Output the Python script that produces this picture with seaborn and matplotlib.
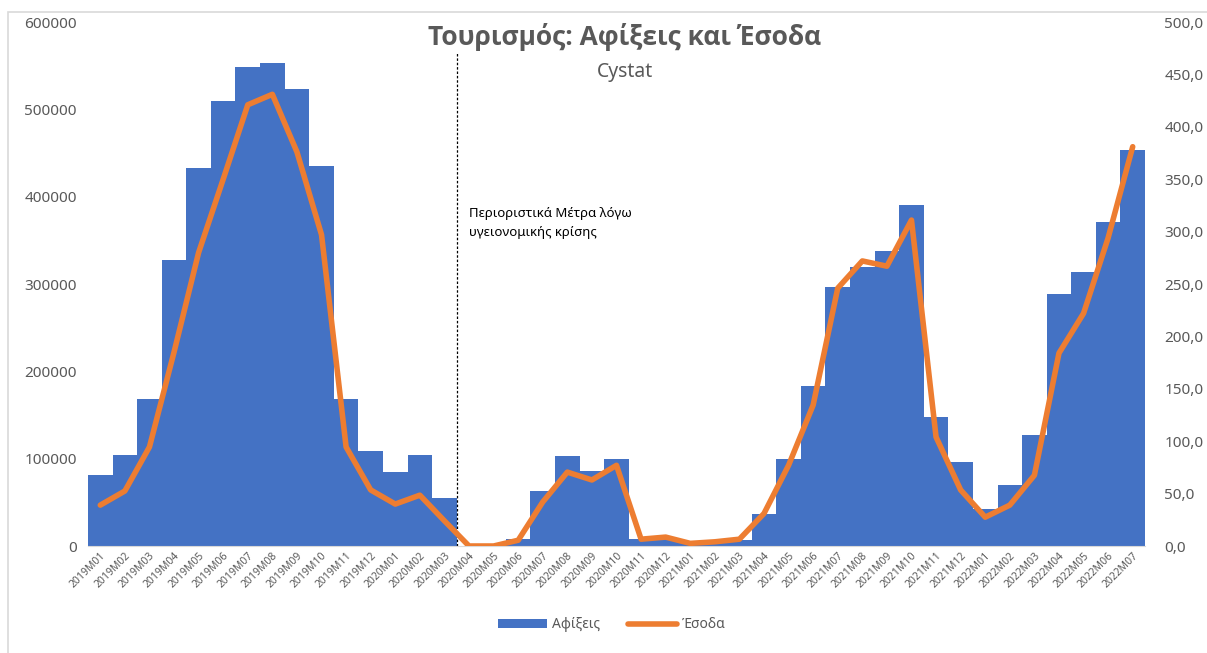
import numpy as np
import pandas as pd
import matplotlib
matplotlib.use('Agg')
import matplotlib.pyplot as plt
import seaborn as sns
from matplotlib.patches import Rectangle, Patch
from matplotlib.lines import Line2D
from matplotlib.ticker import FuncFormatter

sns.set_style('white')
plt.rcParams['font.family'] = ['Noto Sans', 'DejaVu Sans']

# Data
months = ['2019M01', '2019M02', '2019M03', '2019M04', '2019M05', '2019M06', '2019M07',
          '2019M08', '2019M09', '2019M10', '2019M11', '2019M12',
          '2020M01', '2020M02', '2020M03', '2020M04', '2020M05', '2020M06', '2020M07',
          '2020M08', '2020M09', '2020M10', '2020M11', '2020M12',
          '2021M01', '2021M02', '2021M03', '2021M04', '2021M05', '2021M06', '2021M07',
          '2021M08', '2021M09', '2021M10', '2021M11', '2021M12',
          '2022M01', '2022M02', '2022M03', '2022M04', '2022M05', '2022M06', '2022M07']
arrivals = [81000, 104000, 168000, 328000, 433000, 509000, 549000,
            553000, 523000, 435000, 168000, 109000,
            85000, 104000, 55000, 0, 0, 8000, 63000,
            103000, 86000, 100000, 8000, 8000,
            6000, 6000, 7000, 37000, 100000, 183000, 296000,
            320000, 338000, 391000, 148000, 96000,
            42000, 70000, 127000, 288000, 314000, 371000, 454000]
revenue = [39.0, 52.5, 94.5, 185.0, 280.0, 350.0, 421.0,
           431.0, 376.0, 297.0, 94.5, 53.5,
           40.0, 48.5, 24.0, 0.0, 0.0, 5.5, 42.0,
           70.5, 63.0, 77.0, 6.5, 8.5,
           2.5, 4.0, 6.5, 31.0, 77.0, 134.5, 246.0,
           272.0, 267.0, 311.0, 104.0, 53.5,
           27.5, 39.0, 67.5, 184.0, 222.0, 294.0, 381.0]

df = pd.DataFrame({'month': months, 'arrivals': arrivals, 'revenue': revenue})
df['pos'] = np.arange(len(df))

BLUE = '#4472C4'
ORANGE = '#ED7D31'
GREY = '#595959'

fig = plt.figure(figsize=(12.07, 6.53), dpi=100)
fig.patches.append(Rectangle((8/1207, -0.01), 1.2, (653-12)/653 + 0.01, transform=fig.transFigure,
                             fill=False, edgecolor='#D9D9D9', linewidth=1.2))
ax = fig.add_axes([88/1207, 1-546/653, (1145-88)/1207, (546-22)/653])

sns.barplot(data=df, x='month', y='arrivals', color=BLUE, width=1.0, saturation=1,
            ax=ax, edgecolor='none')
ax.set_xlim(-0.5, len(df) - 0.5)
ax.set_ylim(0, 600000)
ax.set_yticks(np.arange(0, 600001, 100000))
ax.yaxis.set_major_formatter(FuncFormatter(lambda v, p: f'{int(v)}'))
ax.set_xlabel('')
ax.set_ylabel('')
ax.tick_params(axis='y', length=0, labelsize=11, labelcolor=GREY, pad=8)
ax.tick_params(axis='x', length=0, labelsize=7.5, labelcolor=GREY, pad=3)
for lab in ax.get_xticklabels():
    lab.set_rotation(45)
    lab.set_ha('right')
    lab.set_rotation_mode('anchor')
for s in ['top', 'right', 'left']:
    ax.spines[s].set_visible(False)
ax.spines['bottom'].set_color('#D9D9D9')

ax2 = ax.twinx()
sns.lineplot(data=df, x='pos', y='revenue', color=ORANGE, linewidth=4, ax=ax2,
             solid_capstyle='round', solid_joinstyle='round')
ax2.set_ylim(0, 500)
ax2.set_yticks(np.arange(0, 501, 50))
ax2.yaxis.set_major_formatter(FuncFormatter(lambda v, p: f'{v:.1f}'.replace('.', ',')))
ax2.set_xlabel('')
ax2.set_ylabel('')
ax2.tick_params(axis='y', length=0, labelsize=11, labelcolor=GREY, pad=14)
for s in ax2.spines.values():
    s.set_visible(False)
ax2.set_xlim(-0.5, len(df) - 0.5)

# lockdown marker between 2020M03 and 2020M04
ax.axvline(14.5, ymin=0, ymax=(546-52)/524, color='black', linestyle=(0, (2, 1.5)), linewidth=0.9)
ax.text(15.0, 388000, 'Περιοριστικά Μέτρα λόγω\nυγειονομικής κρίσης', fontsize=9.5,
        color='black', va='top', ha='left', linespacing=1.6)

fig.text(625/1207, 1-37/653, 'Τουρισμός: Αφίξεις και Έσοδα', ha='center', va='center',
         fontsize=19, fontweight='bold', color=GREY, family=['Open Sans', 'DejaVu Sans'])
fig.text(625/1207, 1-72/653, 'Cystat', ha='center', va='center', fontsize=14, color=GREY)

handles = [Patch(facecolor=BLUE, edgecolor='none'),
           Line2D([0], [0], color=ORANGE, linewidth=4, solid_capstyle='round')]
fig.legend(handles, ['Αφίξεις', 'Έσοδα'], loc='center', bbox_to_anchor=(612/1207, 1-625/653),
           ncol=2, frameon=False, fontsize=10, labelcolor=GREY, handlelength=3.5,
           handleheight=0.6, columnspacing=2.0, handletextpad=0.4)

fig.savefig('out.png', dpi=100)
